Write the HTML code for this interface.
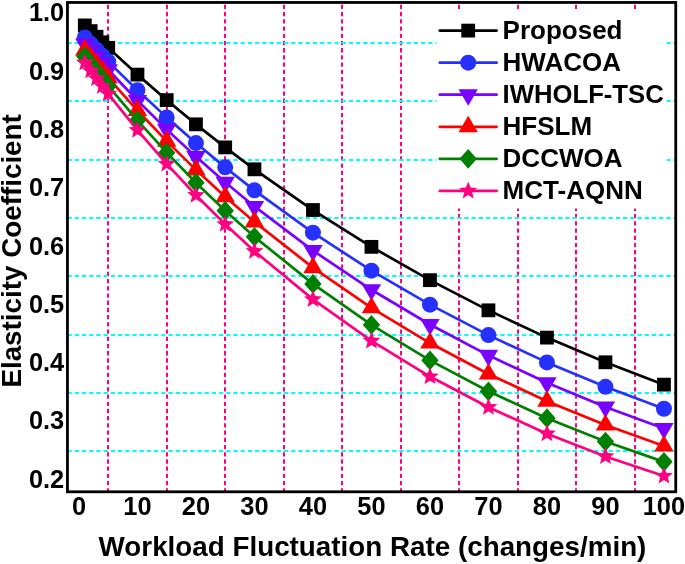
<!DOCTYPE html>
<html><head><meta charset="utf-8"><style>
html,body{margin:0;padding:0;background:#fff;}
svg{display:block;will-change:transform;font-family:"Liberation Sans",sans-serif;font-weight:bold;}
</style></head><body>
<svg width="685" height="564" viewBox="0 0 685 564">
<rect x="0" y="0" width="685" height="564" fill="#fff"/>
<g><line x1="108" y1="2.45" x2="108" y2="491.8" stroke="#ff0080" stroke-width="2" stroke-dasharray="4.3 2.915" stroke-dashoffset="-2.35"/><line x1="167" y1="2.45" x2="167" y2="491.8" stroke="#ff0080" stroke-width="2" stroke-dasharray="4.3 2.915" stroke-dashoffset="-2.35"/><line x1="225" y1="2.45" x2="225" y2="491.8" stroke="#ff0080" stroke-width="2" stroke-dasharray="4.3 2.915" stroke-dashoffset="-2.35"/><line x1="284" y1="2.45" x2="284" y2="491.8" stroke="#ff0080" stroke-width="2" stroke-dasharray="4.3 2.915" stroke-dashoffset="-2.35"/><line x1="342" y1="2.45" x2="342" y2="491.8" stroke="#ff0080" stroke-width="2" stroke-dasharray="4.3 2.915" stroke-dashoffset="-2.35"/><line x1="401" y1="2.45" x2="401" y2="491.8" stroke="#ff0080" stroke-width="2" stroke-dasharray="4.3 2.915" stroke-dashoffset="-2.35"/><line x1="459" y1="2.45" x2="459" y2="491.8" stroke="#ff0080" stroke-width="2" stroke-dasharray="4.3 2.915" stroke-dashoffset="-2.35"/><line x1="518" y1="2.45" x2="518" y2="491.8" stroke="#ff0080" stroke-width="2" stroke-dasharray="4.3 2.915" stroke-dashoffset="-2.35"/><line x1="576" y1="2.45" x2="576" y2="491.8" stroke="#ff0080" stroke-width="2" stroke-dasharray="4.3 2.915" stroke-dashoffset="-2.35"/><line x1="635" y1="2.45" x2="635" y2="491.8" stroke="#ff0080" stroke-width="2" stroke-dasharray="4.3 2.915" stroke-dashoffset="-2.35"/><line x1="67.45" y1="451" x2="675.75" y2="451" stroke="#00ffff" stroke-width="2" stroke-dasharray="4.3 2.915"/><line x1="67.45" y1="393" x2="675.75" y2="393" stroke="#00ffff" stroke-width="2" stroke-dasharray="4.3 2.915"/><line x1="67.45" y1="335" x2="675.75" y2="335" stroke="#00ffff" stroke-width="2" stroke-dasharray="4.3 2.915"/><line x1="67.45" y1="276" x2="675.75" y2="276" stroke="#00ffff" stroke-width="2" stroke-dasharray="4.3 2.915"/><line x1="67.45" y1="218" x2="675.75" y2="218" stroke="#00ffff" stroke-width="2" stroke-dasharray="4.3 2.915"/><line x1="67.45" y1="160" x2="675.75" y2="160" stroke="#00ffff" stroke-width="2" stroke-dasharray="4.3 2.915"/><line x1="67.45" y1="101" x2="675.75" y2="101" stroke="#00ffff" stroke-width="2" stroke-dasharray="4.3 2.915"/><line x1="67.45" y1="43" x2="675.75" y2="43" stroke="#00ffff" stroke-width="2" stroke-dasharray="4.3 2.915"/></g>
<path d="M84.8 25.42 L90.65 31.1 L96.5 36.74 L102.35 42.31 L108.2 47.83 L137.45 74.62 L166.7 100.09 L195.95 124.33 L225.2 147.39 L254.45 169.32 L312.95 210.02 L371.45 246.85 L429.95 280.17 L488.45 310.33 L546.95 337.61 L605.45 362.3 L663.95 384.64" fill="none" stroke="#000000" stroke-width="2.7" stroke-linejoin="round"/>
<g><rect x="77.9" y="18.52" width="13.8" height="13.8" fill="#000000"/><rect x="83.75" y="24.2" width="13.8" height="13.8" fill="#000000"/><rect x="89.6" y="29.84" width="13.8" height="13.8" fill="#000000"/><rect x="95.45" y="35.41" width="13.8" height="13.8" fill="#000000"/><rect x="101.3" y="40.93" width="13.8" height="13.8" fill="#000000"/><rect x="130.55" y="67.72" width="13.8" height="13.8" fill="#000000"/><rect x="159.8" y="93.19" width="13.8" height="13.8" fill="#000000"/><rect x="189.05" y="117.43" width="13.8" height="13.8" fill="#000000"/><rect x="218.3" y="140.49" width="13.8" height="13.8" fill="#000000"/><rect x="247.55" y="162.42" width="13.8" height="13.8" fill="#000000"/><rect x="306.05" y="203.12" width="13.8" height="13.8" fill="#000000"/><rect x="364.55" y="239.95" width="13.8" height="13.8" fill="#000000"/><rect x="423.05" y="273.27" width="13.8" height="13.8" fill="#000000"/><rect x="481.55" y="303.43" width="13.8" height="13.8" fill="#000000"/><rect x="540.05" y="330.71" width="13.8" height="13.8" fill="#000000"/><rect x="598.55" y="355.4" width="13.8" height="13.8" fill="#000000"/><rect x="657.05" y="377.74" width="13.8" height="13.8" fill="#000000"/></g>
<path d="M84.8 37.52 L90.65 43.65 L96.5 49.7 L102.35 55.69 L108.2 61.61 L137.45 90.26 L166.7 117.38 L195.95 143.05 L225.2 167.35 L254.45 190.34 L312.95 232.71 L371.45 270.66 L429.95 304.66 L488.45 335.11 L546.95 362.4 L605.45 386.84 L663.95 408.73" fill="none" stroke="#2630ff" stroke-width="2.7" stroke-linejoin="round"/>
<g><circle cx="84.8" cy="37.52" r="8.0" fill="#2630ff"/><circle cx="90.65" cy="43.65" r="8.0" fill="#2630ff"/><circle cx="96.5" cy="49.7" r="8.0" fill="#2630ff"/><circle cx="102.35" cy="55.69" r="8.0" fill="#2630ff"/><circle cx="108.2" cy="61.61" r="8.0" fill="#2630ff"/><circle cx="137.45" cy="90.26" r="8.0" fill="#2630ff"/><circle cx="166.7" cy="117.38" r="8.0" fill="#2630ff"/><circle cx="195.95" cy="143.05" r="8.0" fill="#2630ff"/><circle cx="225.2" cy="167.35" r="8.0" fill="#2630ff"/><circle cx="254.45" cy="190.34" r="8.0" fill="#2630ff"/><circle cx="312.95" cy="232.71" r="8.0" fill="#2630ff"/><circle cx="371.45" cy="270.66" r="8.0" fill="#2630ff"/><circle cx="429.95" cy="304.66" r="8.0" fill="#2630ff"/><circle cx="488.45" cy="335.11" r="8.0" fill="#2630ff"/><circle cx="546.95" cy="362.4" r="8.0" fill="#2630ff"/><circle cx="605.45" cy="386.84" r="8.0" fill="#2630ff"/><circle cx="663.95" cy="408.73" r="8.0" fill="#2630ff"/></g>
<path d="M84.8 43.85 L90.65 50.44 L96.5 56.96 L102.35 63.41 L108.2 69.77 L137.45 100.48 L166.7 129.4 L195.95 156.63 L225.2 182.28 L254.45 206.43 L312.95 250.6 L371.45 289.78 L429.95 324.52 L488.45 355.34 L546.95 382.67 L605.45 406.91 L663.95 428.41" fill="none" stroke="#7a00ff" stroke-width="2.7" stroke-linejoin="round"/>
<g><path d="M75.1 38.31H94.5L84.8 54.91Z" fill="#7a00ff"/><path d="M80.95 44.91H100.35L90.65 61.51Z" fill="#7a00ff"/><path d="M86.8 51.43H106.2L96.5 68.03Z" fill="#7a00ff"/><path d="M92.65 57.87H112.05L102.35 74.47Z" fill="#7a00ff"/><path d="M98.5 64.24H117.9L108.2 80.84Z" fill="#7a00ff"/><path d="M127.75 94.94H147.15L137.45 111.54Z" fill="#7a00ff"/><path d="M157 123.86H176.4L166.7 140.46Z" fill="#7a00ff"/><path d="M186.25 151.1H205.65L195.95 167.7Z" fill="#7a00ff"/><path d="M215.5 176.74H234.9L225.2 193.34Z" fill="#7a00ff"/><path d="M244.75 200.9H264.15L254.45 217.5Z" fill="#7a00ff"/><path d="M303.25 245.07H322.65L312.95 261.67Z" fill="#7a00ff"/><path d="M361.75 284.24H381.15L371.45 300.84Z" fill="#7a00ff"/><path d="M420.25 318.99H439.65L429.95 335.59Z" fill="#7a00ff"/><path d="M478.75 349.8H498.15L488.45 366.4Z" fill="#7a00ff"/><path d="M537.25 377.14H556.65L546.95 393.74Z" fill="#7a00ff"/><path d="M595.75 401.38H615.15L605.45 417.98Z" fill="#7a00ff"/><path d="M654.25 422.88H673.65L663.95 439.48Z" fill="#7a00ff"/></g>
<path d="M84.8 50.16 L90.65 57.22 L96.5 64.19 L102.35 71.07 L108.2 77.87 L137.45 110.54 L166.7 141.16 L195.95 169.85 L225.2 196.73 L254.45 221.92 L312.95 267.65 L371.45 307.81 L429.95 343.06 L488.45 374.03 L546.95 401.21 L605.45 425.08 L663.95 446.05" fill="none" stroke="#ff0000" stroke-width="2.7" stroke-linejoin="round"/>
<g><path d="M75.1 55.69H94.5L84.8 39.09Z" fill="#ff0000"/><path d="M80.95 62.75H100.35L90.65 46.15Z" fill="#ff0000"/><path d="M86.8 69.72H106.2L96.5 53.12Z" fill="#ff0000"/><path d="M92.65 76.61H112.05L102.35 60.01Z" fill="#ff0000"/><path d="M98.5 83.4H117.9L108.2 66.8Z" fill="#ff0000"/><path d="M127.75 116.07H147.15L137.45 99.47Z" fill="#ff0000"/><path d="M157 146.69H176.4L166.7 130.09Z" fill="#ff0000"/><path d="M186.25 175.38H205.65L195.95 158.78Z" fill="#ff0000"/><path d="M215.5 202.26H234.9L225.2 185.66Z" fill="#ff0000"/><path d="M244.75 227.46H264.15L254.45 210.86Z" fill="#ff0000"/><path d="M303.25 273.19H322.65L312.95 256.59Z" fill="#ff0000"/><path d="M361.75 313.34H381.15L371.45 296.74Z" fill="#ff0000"/><path d="M420.25 348.6H439.65L429.95 332Z" fill="#ff0000"/><path d="M478.75 379.56H498.15L488.45 362.96Z" fill="#ff0000"/><path d="M537.25 406.75H556.65L546.95 390.15Z" fill="#ff0000"/><path d="M595.75 430.62H615.15L605.45 414.02Z" fill="#ff0000"/><path d="M654.25 451.58H673.65L663.95 434.98Z" fill="#ff0000"/></g>
<path d="M84.8 56.45 L90.65 63.97 L96.5 71.38 L102.35 78.69 L108.2 85.89 L137.45 120.45 L166.7 152.67 L195.95 182.71 L225.2 210.72 L254.45 236.84 L312.95 283.9 L371.45 324.81 L429.95 360.37 L488.45 391.29 L546.95 418.17 L605.45 441.54 L663.95 461.85" fill="none" stroke="#008000" stroke-width="2.7" stroke-linejoin="round"/>
<g><path d="M84.8 46.55L93.5 56.45L84.8 66.35L76.1 56.45Z" fill="#008000"/><path d="M90.65 54.07L99.35 63.97L90.65 73.87L81.95 63.97Z" fill="#008000"/><path d="M96.5 61.48L105.2 71.38L96.5 81.28L87.8 71.38Z" fill="#008000"/><path d="M102.35 68.79L111.05 78.69L102.35 88.59L93.65 78.69Z" fill="#008000"/><path d="M108.2 75.99L116.9 85.89L108.2 95.79L99.5 85.89Z" fill="#008000"/><path d="M137.45 110.55L146.15 120.45L137.45 130.35L128.75 120.45Z" fill="#008000"/><path d="M166.7 142.77L175.4 152.67L166.7 162.57L158 152.67Z" fill="#008000"/><path d="M195.95 172.81L204.65 182.71L195.95 192.61L187.25 182.71Z" fill="#008000"/><path d="M225.2 200.82L233.9 210.72L225.2 220.62L216.5 210.72Z" fill="#008000"/><path d="M254.45 226.94L263.15 236.84L254.45 246.74L245.75 236.84Z" fill="#008000"/><path d="M312.95 274L321.65 283.9L312.95 293.8L304.25 283.9Z" fill="#008000"/><path d="M371.45 314.91L380.15 324.81L371.45 334.71L362.75 324.81Z" fill="#008000"/><path d="M429.95 350.47L438.65 360.37L429.95 370.27L421.25 360.37Z" fill="#008000"/><path d="M488.45 381.39L497.15 391.29L488.45 401.19L479.75 391.29Z" fill="#008000"/><path d="M546.95 408.27L555.65 418.17L546.95 428.07L538.25 418.17Z" fill="#008000"/><path d="M605.45 431.64L614.15 441.54L605.45 451.44L596.75 441.54Z" fill="#008000"/><path d="M663.95 451.95L672.65 461.85L663.95 471.75L655.25 461.85Z" fill="#008000"/></g>
<path d="M84.8 62.74 L90.65 70.69 L96.5 78.53 L102.35 86.25 L108.2 93.85 L137.45 130.21 L166.7 163.94 L195.95 195.24 L225.2 224.27 L254.45 251.21 L312.95 299.38 L371.45 340.84 L429.95 376.53 L488.45 407.24 L546.95 433.68 L605.45 456.43 L663.95 476.02" fill="none" stroke="#ff0080" stroke-width="2.7" stroke-linejoin="round"/>
<g><polygon points="84.8,53.39 87.21,59.42 93.69,59.85 88.7,64.01 90.3,70.3 84.8,66.84 79.3,70.3 80.9,64.01 75.91,59.85 82.39,59.42" fill="#ff0080"/><polygon points="90.65,61.34 93.06,67.38 99.54,67.8 94.55,71.96 96.15,78.26 90.65,74.79 85.15,78.26 86.75,71.96 81.76,67.8 88.24,67.38" fill="#ff0080"/><polygon points="96.5,69.18 98.91,75.21 105.39,75.64 100.4,79.8 102,86.09 96.5,82.63 91,86.09 92.6,79.8 87.61,75.64 94.09,75.21" fill="#ff0080"/><polygon points="102.35,76.9 104.76,82.93 111.24,83.36 106.25,87.52 107.85,93.81 102.35,90.35 96.85,93.81 98.45,87.52 93.46,83.36 99.94,82.93" fill="#ff0080"/><polygon points="108.2,84.5 110.61,90.54 117.09,90.96 112.1,95.12 113.7,101.42 108.2,97.95 102.7,101.42 104.3,95.12 99.31,90.96 105.79,90.54" fill="#ff0080"/><polygon points="137.45,120.86 139.86,126.9 146.34,127.32 141.35,131.48 142.95,137.78 137.45,134.31 131.95,137.78 133.55,131.48 128.56,127.32 135.04,126.9" fill="#ff0080"/><polygon points="166.7,154.59 169.11,160.63 175.59,161.05 170.6,165.21 172.2,171.51 166.7,168.04 161.2,171.51 162.8,165.21 157.81,161.05 164.29,160.63" fill="#ff0080"/><polygon points="195.95,185.89 198.36,191.92 204.84,192.35 199.85,196.5 201.45,202.8 195.95,199.34 190.45,202.8 192.05,196.5 187.06,192.35 193.54,191.92" fill="#ff0080"/><polygon points="225.2,214.92 227.61,220.95 234.09,221.38 229.1,225.54 230.7,231.84 225.2,228.37 219.7,231.84 221.3,225.54 216.31,221.38 222.79,220.95" fill="#ff0080"/><polygon points="254.45,241.86 256.86,247.89 263.34,248.32 258.35,252.47 259.95,258.77 254.45,255.31 248.95,258.77 250.55,252.47 245.56,248.32 252.04,247.89" fill="#ff0080"/><polygon points="312.95,290.03 315.36,296.06 321.84,296.49 316.85,300.64 318.45,306.94 312.95,303.48 307.45,306.94 309.05,300.64 304.06,296.49 310.54,296.06" fill="#ff0080"/><polygon points="371.45,331.49 373.86,337.52 380.34,337.95 375.35,342.11 376.95,348.4 371.45,344.94 365.95,348.4 367.55,342.11 362.56,337.95 369.04,337.52" fill="#ff0080"/><polygon points="429.95,367.18 432.36,373.21 438.84,373.64 433.85,377.79 435.45,384.09 429.95,380.63 424.45,384.09 426.05,377.79 421.06,373.64 427.54,373.21" fill="#ff0080"/><polygon points="488.45,397.89 490.86,403.93 497.34,404.35 492.35,408.51 493.95,414.81 488.45,411.34 482.95,414.81 484.55,408.51 479.56,404.35 486.04,403.93" fill="#ff0080"/><polygon points="546.95,424.33 549.36,430.36 555.84,430.79 550.85,434.95 552.45,441.24 546.95,437.78 541.45,441.24 543.05,434.95 538.06,430.79 544.54,430.36" fill="#ff0080"/><polygon points="605.45,447.08 607.86,453.12 614.34,453.54 609.35,457.7 610.95,464 605.45,460.53 599.95,464 601.55,457.7 596.56,453.54 603.04,453.12" fill="#ff0080"/><polygon points="663.95,466.67 666.36,472.7 672.84,473.13 667.85,477.29 669.45,483.58 663.95,480.12 658.45,483.58 660.05,477.29 655.06,473.13 661.54,472.7" fill="#ff0080"/></g>
<rect x="67.45" y="2.45" width="608.3" height="489.35" fill="none" stroke="#000" stroke-width="2.8"/>
<rect x="436.5" y="9" width="230.0" height="199.5" fill="#fff"/>
<line x1="439.8" y1="30.6" x2="496.6" y2="30.6" stroke="#000000" stroke-width="2.7" stroke-linecap="round"/>
<rect x="461.3" y="23.7" width="13.8" height="13.8" fill="#000000"/>
<text x="502.6" y="38.9" font-size="26" fill="#000">Proposed</text>
<line x1="439.8" y1="62.66" x2="496.6" y2="62.66" stroke="#2630ff" stroke-width="2.7" stroke-linecap="round"/>
<circle cx="468.2" cy="62.66" r="8.0" fill="#2630ff"/>
<text x="502.6" y="70.96" font-size="26" fill="#000">HWACOA</text>
<line x1="439.8" y1="94.72" x2="496.6" y2="94.72" stroke="#7a00ff" stroke-width="2.7" stroke-linecap="round"/>
<path d="M458.5 89.19H477.9L468.2 105.79Z" fill="#7a00ff"/>
<text x="502.6" y="103.02" font-size="26" fill="#000" textLength="161.1" lengthAdjust="spacingAndGlyphs">IWHOLF-TSC</text>
<line x1="439.8" y1="126.78" x2="496.6" y2="126.78" stroke="#ff0000" stroke-width="2.7" stroke-linecap="round"/>
<path d="M458.5 132.31H477.9L468.2 115.71Z" fill="#ff0000"/>
<text x="502.6" y="135.08" font-size="26" fill="#000">HFSLM</text>
<line x1="439.8" y1="158.84" x2="496.6" y2="158.84" stroke="#008000" stroke-width="2.7" stroke-linecap="round"/>
<path d="M468.2 148.94L476.9 158.84L468.2 168.74L459.5 158.84Z" fill="#008000"/>
<text x="502.6" y="167.14" font-size="26" fill="#000">DCCWOA</text>
<line x1="439.8" y1="190.9" x2="496.6" y2="190.9" stroke="#ff0080" stroke-width="2.7" stroke-linecap="round"/>
<polygon points="468.2,181.55 470.61,187.58 477.09,188.01 472.1,192.17 473.7,198.46 468.2,195 462.7,198.46 464.3,192.17 459.31,188.01 465.79,187.58" fill="#ff0080"/>
<text x="502.6" y="199.2" font-size="26" fill="#000">MCT-AQNN</text>
<text x="64.2" y="487.8" font-size="25.4" text-anchor="end">0.2</text>
<text x="64.2" y="429.48" font-size="25.4" text-anchor="end">0.3</text>
<text x="64.2" y="371.16" font-size="25.4" text-anchor="end">0.4</text>
<text x="64.2" y="312.84" font-size="25.4" text-anchor="end">0.5</text>
<text x="64.2" y="254.52" font-size="25.4" text-anchor="end">0.6</text>
<text x="64.2" y="196.2" font-size="25.4" text-anchor="end">0.7</text>
<text x="64.2" y="137.88" font-size="25.4" text-anchor="end">0.8</text>
<text x="64.2" y="79.56" font-size="25.4" text-anchor="end">0.9</text>
<text x="64.2" y="21.24" font-size="25.4" text-anchor="end">1.0</text>
<text x="78.95" y="514.8" font-size="25.4" text-anchor="middle">0</text>
<text x="137.45" y="514.8" font-size="25.4" text-anchor="middle">10</text>
<text x="195.95" y="514.8" font-size="25.4" text-anchor="middle">20</text>
<text x="254.45" y="514.8" font-size="25.4" text-anchor="middle">30</text>
<text x="312.95" y="514.8" font-size="25.4" text-anchor="middle">40</text>
<text x="371.45" y="514.8" font-size="25.4" text-anchor="middle">50</text>
<text x="429.95" y="514.8" font-size="25.4" text-anchor="middle">60</text>
<text x="488.45" y="514.8" font-size="25.4" text-anchor="middle">70</text>
<text x="546.95" y="514.8" font-size="25.4" text-anchor="middle">80</text>
<text x="605.45" y="514.8" font-size="25.4" text-anchor="middle">90</text>
<text x="663.95" y="514.8" font-size="25.4" text-anchor="middle">100</text>
<text x="372.5" y="556" font-size="27.8" text-anchor="middle">Workload Fluctuation Rate (changes/min)</text>
<text transform="translate(21.2,250.9) rotate(-90)" x="0" y="0" font-size="27.8" text-anchor="middle">Elasticity Coefficient</text>
</svg></body></html>
